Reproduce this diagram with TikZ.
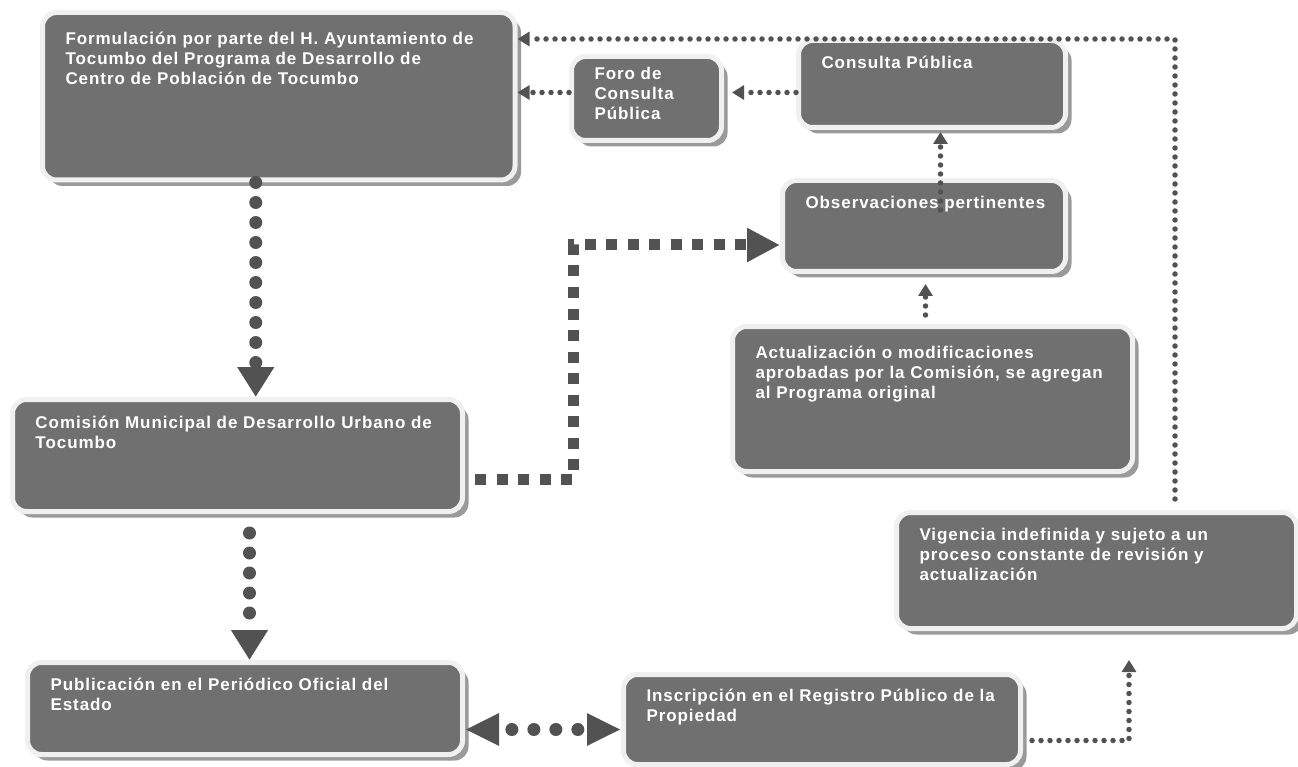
\documentclass[tikz,border=0pt]{standalone}
\usepackage{fontspec}
\newfontfamily\stagefont{Liberation Sans}[LetterSpace=5.5]
\usetikzlibrary{arrows.meta,shadows}
\definecolor{stagefill}{HTML}{707070}
\definecolor{stagerim}{HTML}{F0F0F0}
\definecolor{stageshade}{HTML}{9A9A9A}
\definecolor{linkgray}{HTML}{525252}

% width, height, top pad, text
\newcommand{\stagetext}[4]{%
  \parbox[t][#2][t]{#1}{\leftskip=23pt\rightskip=0pt plus 1fil\parfillskip=0pt plus 1fil
    \vspace*{#3}\rule{0pt}{16pt}#4}}

\tikzset{
  stage/.style={anchor=north west, inner sep=0pt, fill=stagefill, draw=stagerim,
    line width=5pt, rounded corners=14pt, text=white,
    font=\stagefont\bfseries\fontsize{17}{20}\selectfont,
    drop shadow={shadow xshift=6pt, shadow yshift=-6pt, fill=stageshade, opacity=1}},
  bigdot/.style={draw=linkgray, line width=13pt, line cap=round,
    dash pattern=on 0pt off 20pt, -{Triangle[length=30pt, width=35pt]}},
  twodot/.style={draw=linkgray, line width=13pt, line cap=round,
    dash pattern=on 0pt off 22pt, dash phase=7pt,
    {Triangle[length=34pt, width=30pt]}-{Triangle[length=34pt, width=30pt]}},
  squaredash/.style={draw=linkgray, line width=11pt,
    dash pattern=on 11pt off 10.5pt, -{Triangle[length=33pt, width=32pt]}},
  smalldot/.style={draw=linkgray, line width=5.5pt, line cap=round,
    dash pattern=on 0pt off 9pt, -{Triangle[length=12pt, width=14pt]}}
}

\begin{document}
\begin{tikzpicture}[x=1pt, y=-1pt]
    \useasboundingbox (0,0) rectangle (1298,767);

    \node[stage] (form) at (40,10)
      {\stagetext{472.5pt}{167.5pt}{16pt}{Formulación por parte del H. Ayuntamiento de\\
       Tocumbo del Programa de Desarrollo de\\ Centro de Población de Tocumbo}};
    \node[stage] (foro) at (569,54)
      {\stagetext{150pt}{84pt}{7pt}{Foro de\\ Consulta\\ Pública}};
    \node[stage] (consulta) at (796,38)
      {\stagetext{267pt}{87pt}{12pt}{Consulta Pública}};
    \node[stage] (observ) at (780,178)
      {\stagetext{283pt}{91pt}{12pt}{Observaciones pertinentes}};
    \node[stage] (actual) at (730,324)
      {\stagetext{400pt}{145pt}{16pt}{Actualización o modificaciones\\
       aprobadas por la Comisión, se agregan\\ al Programa original}};
    \node[stage] (comision) at (10,397)
      {\stagetext{450pt}{112pt}{13pt}{Comisión Municipal de Desarrollo Urbano de\\ Tocumbo}};
    \node[stage] (public) at (25,660)
      {\stagetext{435pt}{92pt}{12pt}{Publicación en el Periódico Oficial del\\ Estado}};
    \node[stage] (inscr) at (621,672)
      {\stagetext{397pt}{90pt}{11pt}{Inscripción en el Registro Público de la\\ Propiedad}};
    \node[stage] (vigencia) at (894,510)
      {\stagetext{400pt}{116pt}{12pt}{Vigencia indefinida y sujeto a un\\
       proceso constante de revisión y\\ actualización}};

    \coordinate (bend) at (573,245);
    \coordinate (vigfoot) at (1129,660);
    \coordinate (loopcorner) at (1175,39);
    \coordinate (formfoot) at ([xshift=-23pt]form.south);
    \coordinate (comfoot) at ([xshift=12pt]comision.south);
    \coordinate (comside) at ([yshift=-24pt]comision.east);
    \coordinate (pubside) at ([yshift=-21pt]public.east);
    \coordinate (insside) at ([yshift=-21pt]inscr.east);
    \coordinate (conside) at ([yshift=-8.5pt]consulta.west);
    \coordinate (foroside) at ([yshift=6pt]foro.west);
    \coordinate (obsfoot) at ([xshift=16.5pt, yshift=-32pt]observ.north);
    \coordinate (actfoot) at ([xshift=-7pt]actual.north);

    \draw[bigdot] (formfoot) -- (formfoot |- comision.north);
    \draw[bigdot, shorten <=19pt] (comfoot) -- (comfoot |- public.north);
    \draw[squaredash, shorten <=10pt] (comside) -| (bend) -- (bend -| observ.west);
    \draw[twodot] (pubside) -- (pubside -| inscr.west);
    \draw[smalldot, shorten <=9pt] (insside) -| (vigfoot);
    \draw[smalldot, shorten <=11pt] (vigencia.north -| loopcorner) -- (loopcorner)
      -- (loopcorner -| form.east);
    \draw[smalldot, shorten >=8pt] (conside) -- (conside -| foro.east);
    \draw[smalldot] (foroside) -- (foroside -| form.east);
    \draw[smalldot, shorten >=2pt] (obsfoot) -- (obsfoot |- consulta.south);
    \draw[smalldot, shorten <=9pt, shorten >=10pt] (actfoot) -- (actfoot |- observ.south);
\end{tikzpicture}
\end{document}
